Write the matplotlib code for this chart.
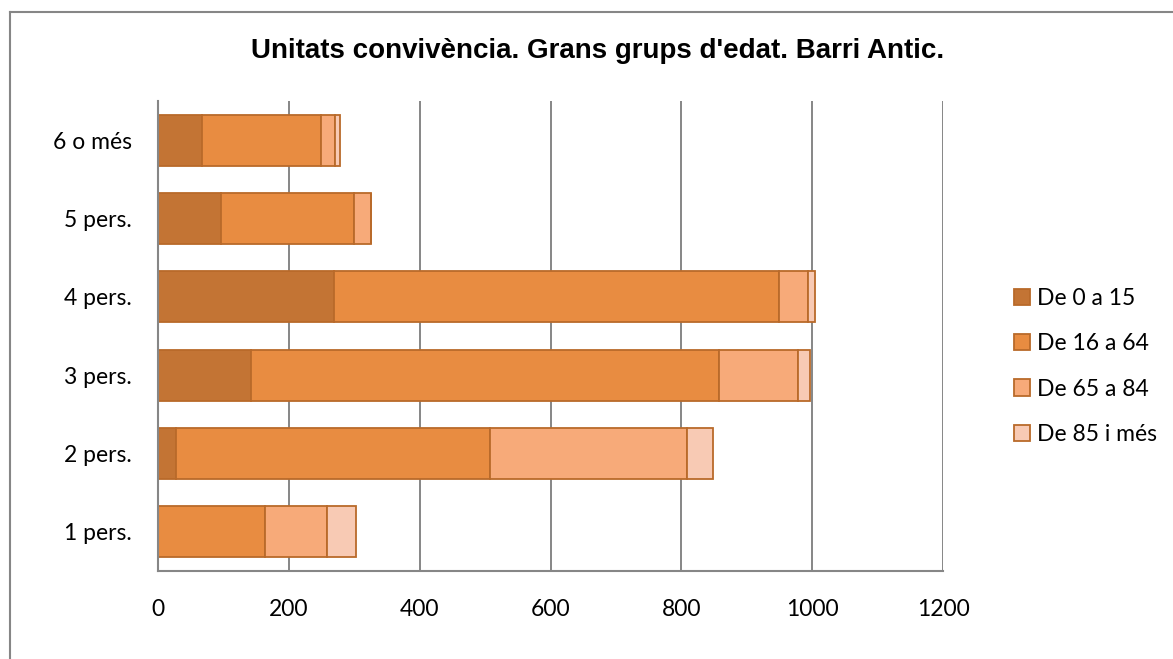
import matplotlib
matplotlib.use("Agg")
import matplotlib.pyplot as plt
from matplotlib.patches import Patch
from matplotlib.lines import Line2D

categories = ["1 pers.", "2 pers.", "3 pers.", "4 pers.", "5 pers.", "6 o més"]
series_names = ["De 0 a 15", "De 16 a 64", "De 65 a 84", "De 85 i més"]
v_0_15 = [0, 27, 142, 269, 97, 68]
v_16_64 = [164, 481, 715, 680, 203, 181]
v_65_84 = [94, 300, 121, 44, 25, 21]
v_85 = [44, 41, 18, 11, 1, 8]
xticks = [0, 200, 400, 600, 800, 1000, 1200]
title = "Unitats convivència. Grans grups d'edat. Barri Antic."

colors = ["#C37434", "#E88C41", "#F7AA79", "#F8CAB4"]
edge = "#B96A2A"
grid_gray = "#868686"
FS = 16.5

W, H = 1173, 659
fig = plt.figure(figsize=(W / 100, H / 100), dpi=100)
ax = fig.add_axes([158 / W, 88 / H, (943 - 158) / W, (571 - 101) / H])

series = [v_0_15, v_16_64, v_65_84, v_85]
left = [0] * len(categories)
ypos = list(range(len(categories)))
for vals, c in zip(series, colors):
    ax.barh(ypos, vals, left=left, height=0.65, color=c, edgecolor=edge,
            linewidth=1.3, zorder=3)
    left = [l + v for l, v in zip(left, vals)]

ax.set_xlim(0, 1200)
ax.set_ylim(-0.5, len(categories) - 0.5)
ax.set_xticks(xticks)
ax.set_xticklabels([str(t) for t in xticks])
ax.set_yticks(ypos)
ax.set_yticklabels(categories)
ax.tick_params(axis="both", length=0, labelsize=FS, colors="black")
ax.tick_params(axis="x", pad=20)
ax.tick_params(axis="y", pad=19)
for lab in ax.get_xticklabels() + ax.get_yticklabels():
    lab.set_family(["Lato", "DejaVu Sans"])

ax.grid(axis="x", color=grid_gray, linewidth=1.4, zorder=0)
ax.set_axisbelow(True)
for s in ["top", "right"]:
    ax.spines[s].set_visible(False)
for s in ["left", "bottom"]:
    ax.spines[s].set_color(grid_gray)
    ax.spines[s].set_linewidth(1.5)
    ax.spines[s].set_zorder(4)

fig.text(598 / W, 1 - 58 / H, title, ha="center", va="baseline",
         fontsize=20, fontweight="bold", family=["Liberation Sans", "DejaVu Sans"])

handles = [Patch(facecolor=c, edgecolor=edge, linewidth=1.3) for c in colors]
leg = fig.legend(handles, series_names, loc="center left",
                 bbox_to_anchor=(993 / W, 1 - 366.5 / H), frameon=False,
                 handlelength=0.7, handleheight=0.7, handletextpad=0.3,
                 labelspacing=1.05, prop={"family": ["Lato", "DejaVu Sans"], "size": FS})

# outer chart border
fig.add_artist(Line2D([10 / W, 10 / W], [0, 1 - 12 / H], transform=fig.transFigure,
                      color=grid_gray, linewidth=1.5))
fig.add_artist(Line2D([10 / W, 1], [1 - 12 / H, 1 - 12 / H], transform=fig.transFigure,
                      color=grid_gray, linewidth=1.5))

fig.savefig("out.png", dpi=100, facecolor="white")
